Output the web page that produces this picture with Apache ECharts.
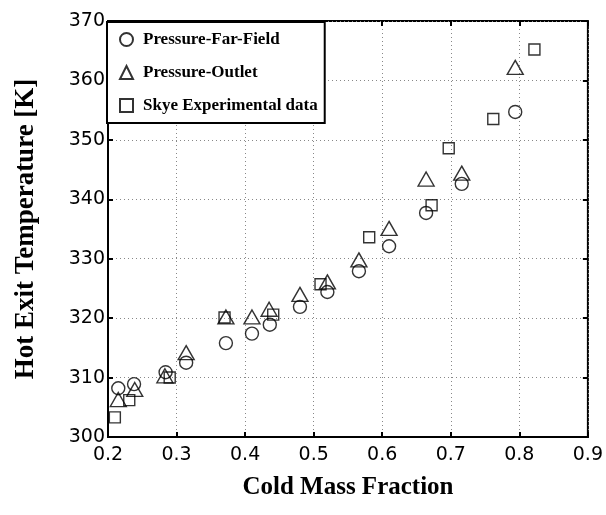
<!DOCTYPE html>
<html>
<head>
<meta charset="utf-8">
<script src="https://cdn.jsdelivr.net/npm/echarts@6/dist/echarts.min.js"></script>
<style>
  html, body { margin: 0; padding: 0; background: #fff; }
  #chart { width: 606px; height: 515px; }
</style>
</head>
<body>
<div id="chart"></div>
<script>
// 数据：冷流比 vs 热端出口温度
var farFieldX = [0.215, 0.238, 0.284, 0.314, 0.372, 0.410, 0.436, 0.480, 0.520, 0.566, 0.610, 0.664, 0.716, 0.794];
var farFieldY = [308.2, 308.9, 310.9, 312.5, 315.8, 317.4, 318.9, 321.9, 324.4, 327.9, 332.1, 337.7, 342.6, 354.7];

var outletX = [0.215, 0.239, 0.283, 0.314, 0.372, 0.410, 0.435, 0.480, 0.520, 0.566, 0.610, 0.664, 0.716, 0.794];
var outletY = [306.3, 308.0, 310.3, 314.2, 320.2, 320.2, 321.5, 324.0, 326.1, 329.8, 335.1, 343.4, 344.4, 362.2];

var skyeX = [0.210, 0.231, 0.290, 0.370, 0.441, 0.510, 0.581, 0.672, 0.697, 0.762, 0.822];
var skyeY = [303.3, 306.2, 310.0, 320.1, 320.6, 325.7, 333.6, 339.0, 348.6, 353.5, 365.2];

var seriesNames = ['Pressure-Far-Field', 'Pressure-Outlet', 'Skye Experimental data'];

function pairs(xs, ys) {
    var out = [];
    for (var i = 0; i < xs.length; i++) out.push([xs[i], ys[i]]);
    return out;
}

var myChart = echarts.init(document.getElementById('chart'));

var markerStyle = { color: 'rgba(0,0,0,0)', borderColor: '#000', borderWidth: 1.4 };
var gridLine = { show: true, lineStyle: { color: '#888', type: [1, 3], width: 1 } };
var tickFont = { color: '#000', fontSize: 19, fontFamily: 'DejaVu Sans' };
var tickStyle = { show: true, inside: true, length: 5, lineStyle: { color: '#000', width: 2 } };

var option = {
    animation: false,
    backgroundColor: '#fff',
    grid: { left: 108, top: 21, right: 18, bottom: 78, show: true, borderColor: '#000', borderWidth: 2, backgroundColor: 'transparent' },
    legend: {
        orient: 'vertical',
        left: 107, top: 22,
        padding: [9, 7, 9, 12],
        itemGap: 16,
        itemWidth: 13, itemHeight: 13,
        backgroundColor: '#fff',
        borderColor: '#000', borderWidth: 2,
        textStyle: { color: '#000', fontSize: 17, fontWeight: 'bold', fontFamily: 'Liberation Serif', padding: [0, 0, 0, 5] },
        data: seriesNames
    },
    xAxis: [{
        type: 'value', min: 0.2, max: 0.9, interval: 0.1,
        name: 'Cold Mass Fraction', nameLocation: 'middle', nameGap: 38,
        nameTextStyle: { color: '#000', fontSize: 25, fontWeight: 'bold', fontFamily: 'Liberation Serif' },
        axisLine: { show: true, lineStyle: { color: '#000', width: 2 } },
        axisTick: tickStyle,
        axisLabel: Object.assign({ margin: 9, formatter: function (v) { return v.toFixed(1); } }, tickFont),
        splitLine: gridLine
    }, {
        type: 'value', position: 'top', min: 0.2, max: 0.9, interval: 0.1,
        axisLine: { show: false }, axisTick: tickStyle,
        axisLabel: { show: false }, splitLine: { show: false }
    }],
    yAxis: [{
        type: 'value', min: 300, max: 370, interval: 10,
        name: 'Hot Exit Temperature [K]', nameLocation: 'middle', nameGap: 68, nameRotate: 90,
        nameTextStyle: { color: '#000', fontSize: 27, fontWeight: 'bold', fontFamily: 'Liberation Serif' },
        axisLine: { show: true, lineStyle: { color: '#000', width: 2 } },
        axisTick: tickStyle,
        axisLabel: Object.assign({ margin: 3 }, tickFont),
        splitLine: gridLine
    }, {
        type: 'value', position: 'right', min: 300, max: 370, interval: 10,
        axisLine: { show: false }, axisTick: tickStyle,
        axisLabel: { show: false }, splitLine: { show: false }
    }],
    series: [{
        name: seriesNames[0], type: 'scatter', symbol: 'circle', symbolSize: 13,
        itemStyle: markerStyle, data: pairs(farFieldX, farFieldY)
    }, {
        name: seriesNames[1], type: 'scatter', symbol: 'triangle', symbolSize: [16, 14],
        itemStyle: markerStyle, data: pairs(outletX, outletY)
    }, {
        name: seriesNames[2], type: 'scatter', symbol: 'rect', symbolSize: 11,
        itemStyle: markerStyle, data: pairs(skyeX, skyeY)
    }]
};

myChart.setOption(option);
</script>
</body>
</html>
